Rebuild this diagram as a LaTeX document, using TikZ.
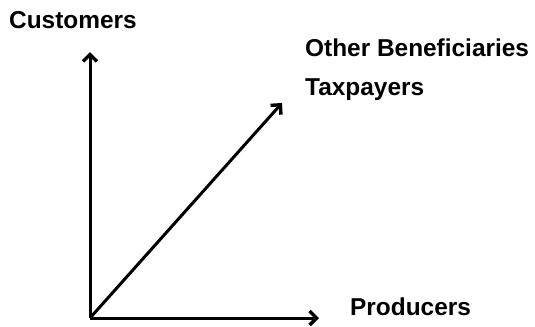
\documentclass[tikz,border=0pt]{standalone}
\usepackage{fontspec}
\setmainfont{Liberation Sans}
\usetikzlibrary{arrows.meta}
\begin{document}
\begin{tikzpicture}[x=1bp,y=-1bp,
  axis/.style={line width=3bp,-{Straight Barb[length=7bp,width=14bp,line width=3.4bp]}},
  lbl/.style={anchor=base west,inner sep=0pt,font=\bfseries\fontsize{24.5}{29}\selectfont}]
  \useasboundingbox (0,0) rectangle (535,326);
  \coordinate (o) at (90,318);
  \coordinate (up) at (90,52);
  \coordinate (diag) at (282,103);
  \coordinate (right) at (319,318);
  \draw[axis] (o) -- (up);
  \draw[axis] (o) -- (diag);
  \draw[axis] (o) -- (right);
  \node[lbl] (cust) at (9,28) {Customers};
  \node[lbl] (other) at (305,56) {Other Beneficiaries};
  \node[lbl] (tax) at (305,95) {Taxpayers};
  \node[lbl] (prod) at (350,315) {Producers};
\end{tikzpicture}
\end{document}
